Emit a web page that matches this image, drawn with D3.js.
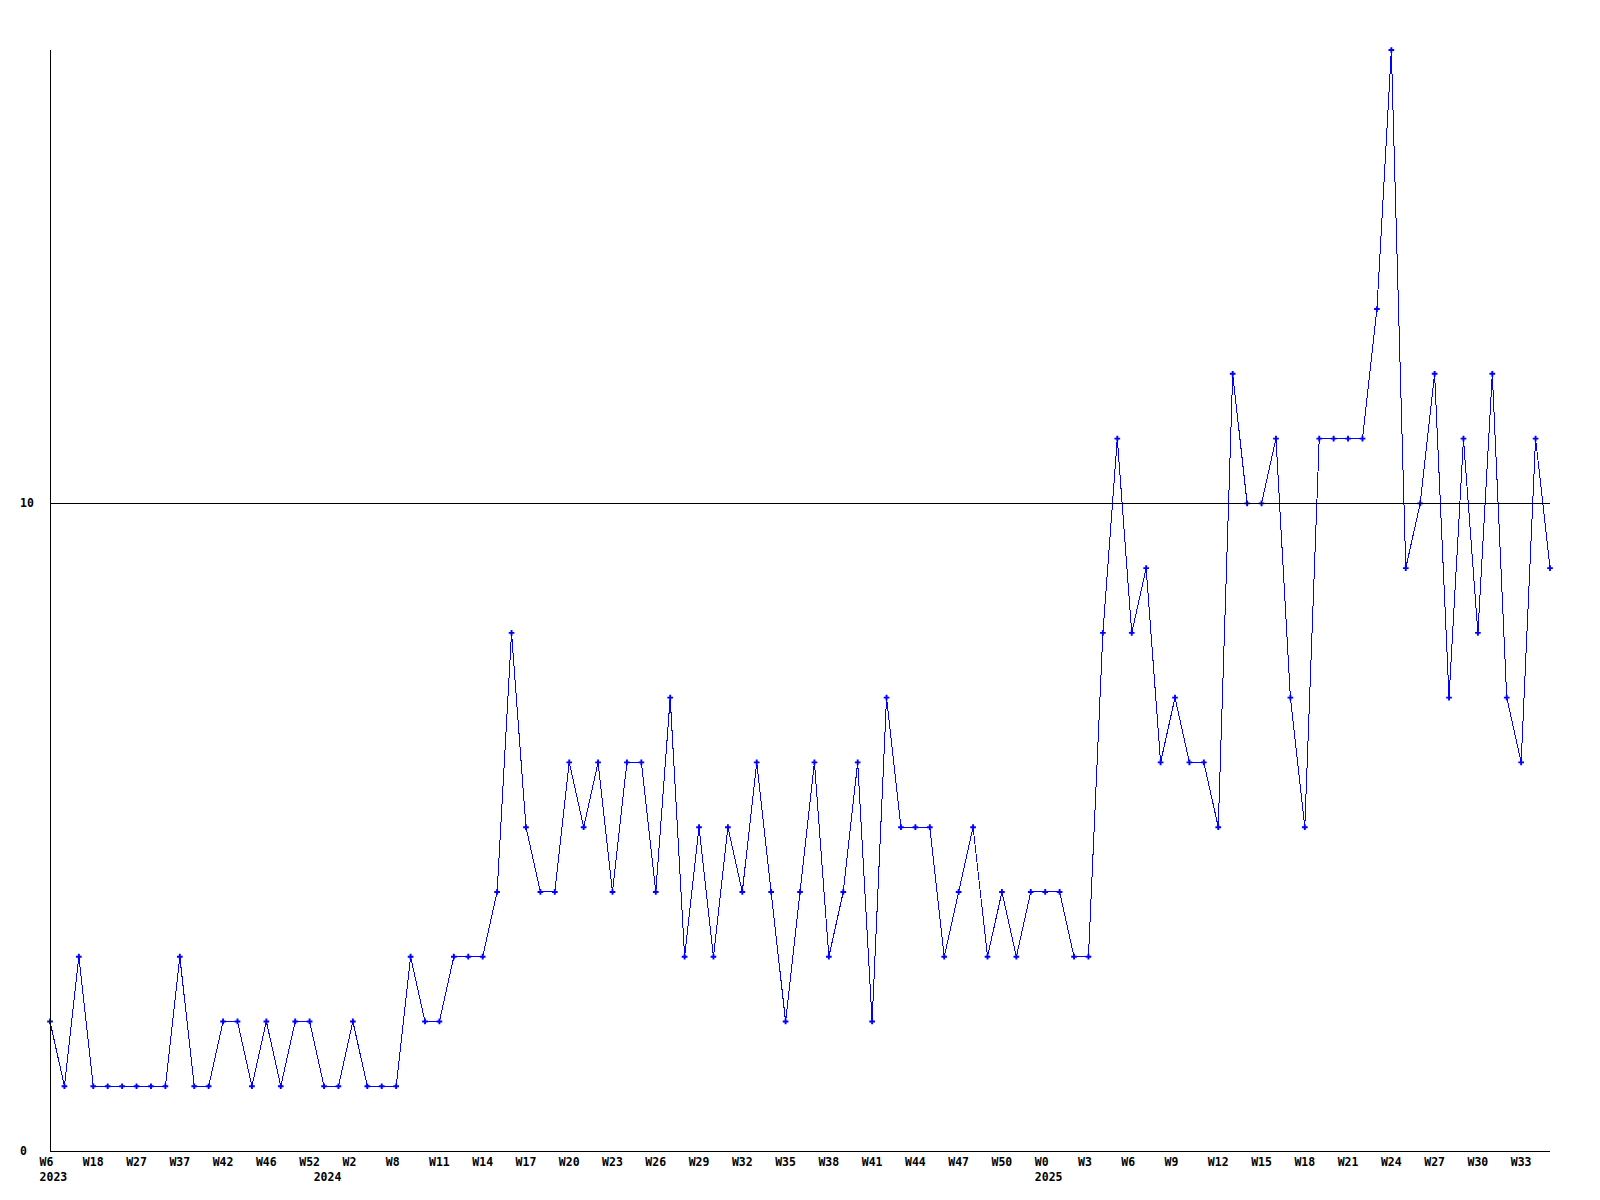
<!DOCTYPE html>
<html>
<head>
<meta charset="utf-8">
<script src="https://cdn.jsdelivr.net/npm/d3@7"></script>
<style>
  html, body { margin: 0; padding: 0; background: #fff; }
  svg { display: block; }
  text { font-family: "DejaVu Sans Mono", "Liberation Mono", monospace; font-weight: bold; font-size: 11.5px; fill: #000; }
</style>
</head>
<body>
<script>
// Weekly values (105 points)
const values = [
  2, 1, 3, 1, 1, 1, 1, 1, 1, 3,
  1, 1, 2, 2, 1, 2, 1, 2, 2, 1,
  1, 2, 1, 1, 1, 3, 2, 2, 3, 3,
  3, 4, 8, 5, 4, 4, 6, 5, 6, 4,
  6, 6, 4, 7, 3, 5, 3, 5, 4, 6,
  4, 2, 4, 6, 3, 4, 6, 2, 7, 5,
  5, 5, 3, 4, 5, 3, 4, 3, 4, 4,
  4, 3, 3, 8, 11, 8, 9, 6, 7, 6,
  6, 5, 12, 10, 10, 11, 7, 5, 11, 11,
  11, 11, 13, 17, 9, 10, 12, 7, 11, 8,
  12, 7, 6, 11, 9
];
// Week tick labels, shown under every 3rd point
const weekLabels = [
  "W6", "W18", "W27", "W37", "W42", "W46", "W52", "W2", "W8", "W11",
  "W14", "W17", "W20", "W23", "W26", "W29", "W32", "W35", "W38", "W41",
  "W44", "W47", "W50", "W0", "W3", "W6", "W9", "W12", "W15", "W18",
  "W21", "W24", "W27", "W30", "W33"
];
const labelStep = 3;
// Year labels and the point index where each year starts
const yearLabels = ["2023", "2024", "2025"];
const yearIndex = [0, 19, 69];
// Y tick labels
const yTicks = [0, 10];
const yMax = 17;

const W = 1600, H = 1200;
const mLeft = 50, mRight = 1550, mTop = 50, mBottom = 1151;

const svg = d3.select("body").append("svg").attr("width", W).attr("height", H);

const x = d3.scalePoint().domain(d3.range(values.length)).range([mLeft, mRight]);
const y = d3.scaleLinear().domain([0, yMax]).range([mBottom, mTop]);

// Data line
const line = d3.line().x((d, i) => x(i)).y(d => y(d));
svg.append("path")
  .datum(values)
  .attr("d", line)
  .attr("fill", "none")
  .attr("stroke", "#0000ff")
  .attr("stroke-width", 1)
  .attr("shape-rendering", "crispEdges");

// Markers
const sym = d3.symbol().type(d3.symbolCross).size(18);
svg.append("g").selectAll("path")
  .data(values)
  .join("path")
  .attr("d", sym)
  .attr("transform", (d, i) => `translate(${x(i)},${y(d)})`)
  .attr("fill", "#0000ff");

// Horizontal grid at 10
svg.append("g").selectAll("line")
  .data(yTicks.filter(t => t > 0))
  .join("line")
  .attr("x1", mLeft).attr("x2", mRight)
  .attr("y1", d => Math.round(y(d)) + 0.5).attr("y2", d => Math.round(y(d)) + 0.5)
  .attr("stroke", "#000").attr("stroke-width", 1);

// Axes lines
svg.append("line")
  .attr("x1", mLeft + 0.5).attr("x2", mLeft + 0.5)
  .attr("y1", mTop).attr("y2", mBottom + 0.5)
  .attr("stroke", "#000");
svg.append("line")
  .attr("x1", mLeft).attr("x2", mRight)
  .attr("y1", mBottom + 0.5).attr("y2", mBottom + 0.5)
  .attr("stroke", "#000");

// Y tick labels
svg.append("g").selectAll("text")
  .data(yTicks)
  .join("text")
  .attr("x", 20)
  .attr("y", d => y(d) + 3.5)
  .text(d => d);

// X week labels
svg.append("g").selectAll("text")
  .data(weekLabels)
  .join("text")
  .attr("x", (d, i) => x(i * labelStep) - 10.4)
  .attr("y", 1166)
  .text(d => d);

// Year labels
svg.append("g").selectAll("text")
  .data(yearLabels)
  .join("text")
  .attr("x", (d, i) => x(yearIndex[i]) - 10.4)
  .attr("y", 1181)
  .text(d => d);
</script>
</body>
</html>
